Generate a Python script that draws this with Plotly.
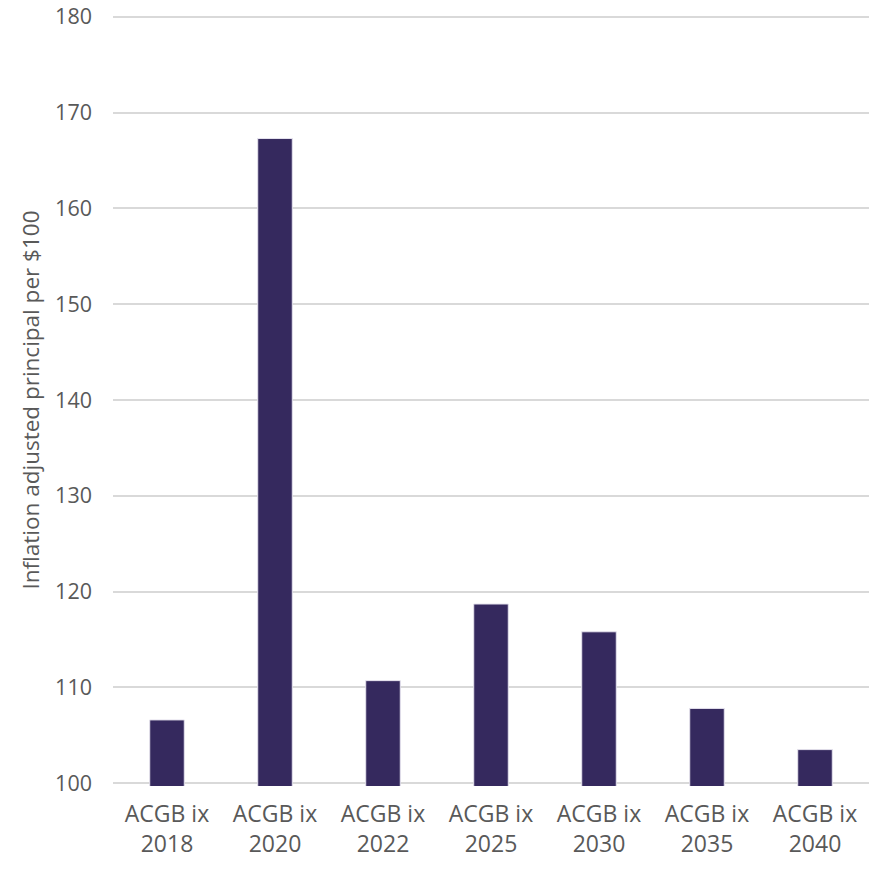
import plotly.graph_objects as go

categories = ["ACGB ix<br>2018", "ACGB ix<br>2020", "ACGB ix<br>2022", "ACGB ix<br>2025",
              "ACGB ix<br>2030", "ACGB ix<br>2035", "ACGB ix<br>2040"]
principal = [106.6, 167.3, 110.7, 118.7, 115.8, 107.8, 103.5]
y_ticks = [100, 110, 120, 130, 140, 150, 160, 170, 180]

font_family = "Open Sans, Liberation Sans, sans-serif"
text_color = "#595959"

fig = go.Figure(
    go.Bar(
        x=categories,
        y=principal,
        marker=dict(color="#35295E", line=dict(color="#E6E3EE", width=1)),
        width=0.32,
    )
)

fig.update_layout(
    width=878,
    height=870,
    margin=dict(l=113, r=9, t=14, b=84),
    plot_bgcolor="white",
    paper_bgcolor="white",
    showlegend=False,
    font=dict(family=font_family, size=22, color=text_color),
)

fig.update_xaxes(
    automargin=False,
    showgrid=False,
    showline=False,
    ticks="",
    ticklabelstandoff=12,
    tickfont=dict(size=23, color=text_color),
)

# pad the range slightly so the 100 and 180 gridlines are drawn
fig.update_yaxes(
    automargin=False,
    range=[99.7, 180.3],
    tickvals=y_ticks,
    showgrid=True,
    gridcolor="#D9D9D9",
    gridwidth=1.5,
    zeroline=False,
    showline=False,
    ticks="",
    ticklabelstandoff=20,
    tickfont=dict(size=21.5, color=text_color),
    title=dict(text="Inflation adjusted principal per $100",
               font=dict(size=22.5, color=text_color), standoff=9),
)

fig.write_html("out.html")
